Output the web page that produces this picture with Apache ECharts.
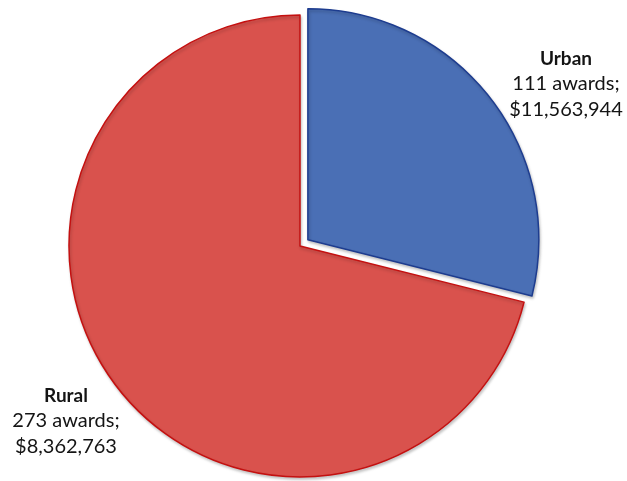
<!DOCTYPE html>
<html>
<head>
<meta charset="utf-8">
<script src="https://cdn.jsdelivr.net/npm/echarts@6/dist/echarts.min.js"></script>
<style>
  html, body { margin: 0; padding: 0; background: #fff; }
  #chart { width: 627px; height: 481px; }
</style>
</head>
<body>
<div id="chart"></div>
<script>
// Award counts and dollar totals by area type
const categories = ['Urban', 'Rural'];
const awards = [111, 273];
const dollars = [11563944, 8362763];

const fills = ['#4a6fb5', '#d9524d'];
const edges = ['#1d3c8f', '#c41010'];

// Label anchor points for each slice (centre of the text block)
const labelSpots = [
  { x: 566, y: 84 },
  { x: 66, y: 421 }
];

const chart = echarts.init(document.getElementById('chart'), null, { renderer: 'canvas' });

const data = categories.map((name, i) => ({
  name: name,
  value: awards[i],
  selected: i === 0,
  itemStyle: {
    color: fills[i], borderColor: edges[i], borderWidth: 1.5,
    shadowColor: 'rgba(0,0,0,0.22)', shadowBlur: 3, shadowOffsetX: 1, shadowOffsetY: 2
  }
}));

const richStyles = {
  b: { fontWeight: 'bold', fontSize: 19, lineHeight: 25.5, fontFamily: 'Lato, sans-serif', fill: '#141414', align: 'center' },
  n: { fontSize: 20, lineHeight: 25.5, fontFamily: 'Lato, sans-serif', fill: '#141414', align: 'center' }
};

// Slice captions: name, award count and dollar total
const captions = categories.map((name, i) => ({
  type: 'text',
  x: labelSpots[i].x,
  y: labelSpots[i].y,
  silent: true,
  style: {
    text: '{b|' + name + '}\n{n|' + awards[i] + ' awards;}\n{n|$' +
      dollars[i].toLocaleString('en-US') + '}',
    rich: richStyles,
    align: 'center',
    verticalAlign: 'middle',
    fill: '#141414'
  }
}));

chart.setOption({
  animation: false,
  graphic: { elements: captions },
  series: [{
    type: 'pie',
    center: [300, 246],
    radius: [0, 231],
    startAngle: 90,
    clockwise: true,
    selectedMode: 'single',
    selectedOffset: 10,
    select: { disabled: false },
    emphasis: { disabled: true },
    data: data,
    label: { show: false },
    labelLine: { show: false }
  }]
});
</script>
</body>
</html>
